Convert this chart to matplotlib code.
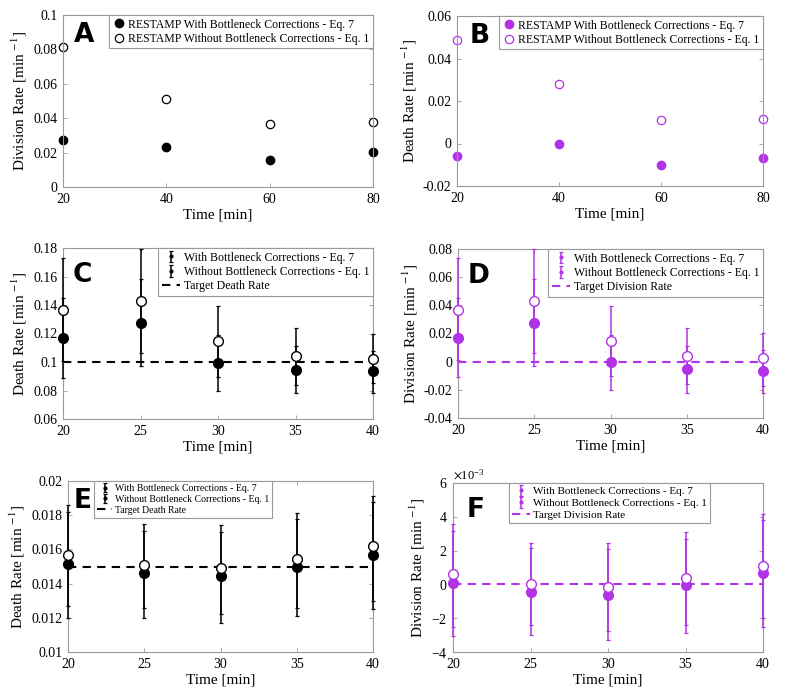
import numpy as np
import matplotlib
matplotlib.use("Agg")
import matplotlib.pyplot as plt
from matplotlib.ticker import FuncFormatter, ScalarFormatter, MultipleLocator

plt.rcParams['font.family'] = ['Liberation Serif', 'DejaVu Serif']
plt.rcParams['mathtext.fontset'] = 'stix'
plt.rcParams['axes.unicode_minus'] = False

PURPLE = '#B233E6'
BLACK = '#000000'

# ---------------- data ----------------
A_time = [20, 40, 60, 80]
A_with = [0.0271, 0.0230, 0.0157, 0.0201]
A_without = [0.0816, 0.0511, 0.0366, 0.0379]

B_with = [-0.0061, -0.0002, -0.0102, -0.0069]
B_without = [0.0488, 0.0281, 0.0109, 0.0113]

T = [20, 25, 30, 35, 40]

C_with = [0.1171, 0.1277, 0.0995, 0.0946, 0.0934]
C_with_lo = [0.089, 0.097, 0.080, 0.078, 0.078]
C_with_hi = [0.145, 0.158, 0.119, 0.111, 0.108]
C_without = [0.1366, 0.1429, 0.1148, 0.1042, 0.1023]
C_without_lo = [0.101, 0.106, 0.0896, 0.084, 0.085]
C_without_hi = [0.173, 0.179, 0.1395, 0.124, 0.120]
C_target = 0.1

D_with = [0.0167, 0.0278, -0.0003, -0.0055, -0.0069]
D_with_lo = [-0.011, -0.003, -0.020, -0.0223, -0.0223]
D_with_hi = [0.045, 0.0585, 0.019, 0.0108, 0.0084]
D_without = [0.0365, 0.0429, 0.0148, 0.0042, 0.0023]
D_without_lo = [0.001, 0.0065, -0.0105, -0.016, -0.0175]
D_without_hi = [0.0734, 0.080, 0.0398, 0.0238, 0.0202]
D_target = 0.0

E_with = [0.01516, 0.01461, 0.01442, 0.0150, 0.01568]
E_with_lo = [0.0120, 0.0120, 0.0117, 0.0121, 0.0125]
E_with_hi = [0.0182, 0.0171, 0.0170, 0.0178, 0.0188]
E_without = [0.01568, 0.0151, 0.0149, 0.01545, 0.01617]
E_without_lo = [0.0127, 0.0126, 0.0122, 0.0126, 0.0130]
E_without_hi = [0.0186, 0.0175, 0.0174, 0.0181, 0.0191]
E_target = 0.015

# panel F values in units of 1e-3
F_with = [0.10, -0.43, -0.63, -0.04, 0.67]
F_with_lo = [-3.08, -3.02, -3.31, -2.86, -2.53]
F_with_hi = [3.16, 2.18, 2.12, 2.71, 3.80]
F_without = [0.59, 0.02, -0.16, 0.39, 1.10]
F_without_lo = [-2.53, -2.43, -2.78, -2.39, -2.00]
F_without_hi = [3.55, 2.47, 2.43, 3.10, 4.14]
F_target = 0.0
F_scale = 1e-3

# ---------------- figure ----------------
W, H = 789, 697
fig = plt.figure(figsize=(W / 100, H / 100), dpi=100)

def ax_px(l, r, t, b):
    return fig.add_axes([l / W, 1 - b / H, (r - l) / W, (b - t) / H])

axA = ax_px(63, 373, 15, 187)
axB = ax_px(457, 763, 16, 186)
axC = ax_px(63, 373, 248, 419)
axD = ax_px(458, 763, 249, 418)
axE = ax_px(68, 373, 481, 652)
axF = ax_px(453, 763, 483, 652)

gfmt = FuncFormatter(lambda v, p: ('%g' % round(v, 6)))

def style(ax, ylabel):
    for s in ax.spines.values():
        s.set_color('#9a9a9a')
        s.set_linewidth(0.8)
    ax.tick_params(direction='in', top=True, right=True, length=3,
                   width=0.6, color='#9a9a9a', labelsize=10, pad=4)
    ax.set_xlabel('Time [min]', fontsize=11, labelpad=2)
    ax.set_ylabel(ylabel, fontsize=11, labelpad=3)

def letter(ax, s, x, y):
    ax.text(x, y, s, transform=ax.transAxes, fontsize=19,
            fontfamily='DejaVu Sans', fontweight='bold', va='top', ha='left', zorder=10)

# Panel A
axA.plot(A_time, A_with, 'o', color=BLACK, ms=6, clip_on=False,
         label='RESTAMP With Bottleneck Corrections - Eq. 7')
axA.plot(A_time, A_without, 'o', mfc='white', mec=BLACK, mew=0.9, ms=6, clip_on=False,
         label='RESTAMP Without Bottleneck Corrections - Eq. 1')
axA.set_xlim(20, 80); axA.set_ylim(0, 0.1)
axA.xaxis.set_major_locator(MultipleLocator(20))
axA.yaxis.set_major_locator(MultipleLocator(0.02))
axA.yaxis.set_major_formatter(gfmt)
style(axA, r'Division Rate [min $^{-1}$]')

# Panel B
axB.plot(A_time, B_with, 'o', color=PURPLE, ms=6, clip_on=False,
         label='RESTAMP With Bottleneck Corrections - Eq. 7')
axB.plot(A_time, B_without, 'o', mfc='white', mec=PURPLE, mew=0.9, ms=6, clip_on=False,
         label='RESTAMP Without Bottleneck Corrections - Eq. 1')
axB.set_xlim(20, 80); axB.set_ylim(-0.02, 0.06)
axB.xaxis.set_major_locator(MultipleLocator(20))
axB.yaxis.set_major_locator(MultipleLocator(0.02))
axB.yaxis.set_major_formatter(gfmt)
style(axB, r'Death Rate [min $^{-1}$]')

def err_panel(ax, color, w, wlo, whi, wo, wolo, wohi, target, tlabel, scale=1.0):
    w = np.array(w) * scale; wlo = np.array(wlo) * scale; whi = np.array(whi) * scale
    wo = np.array(wo) * scale; wolo = np.array(wolo) * scale; wohi = np.array(wohi) * scale
    e1 = ax.errorbar(T, w, yerr=[w - wlo, whi - w], fmt='.', color=color, ms=4,
                     elinewidth=1.1, capsize=1.5, capthick=0.9,
                     label='With Bottleneck Corrections - Eq. 7', zorder=3)
    e2 = ax.errorbar(T, wo, yerr=[wo - wolo, wohi - wo], fmt='.', color=color, ms=4,
                     elinewidth=1.1, capsize=1.5, capthick=0.9,
                     label='Without Bottleneck Corrections - Eq. 1', zorder=3)
    for e in (e1, e2):
        for art in e.lines[1] + e.lines[2]:
            art.set_clip_on(False)
        e.lines[0].set_clip_on(False)
    l3 = ax.axhline(target * scale, color=color, lw=1.5, ls=(0, (4, 3)), label=tlabel, zorder=2)
    ax.plot(T, w, 'o', color=color, ms=7, zorder=4, clip_on=False)
    ax.plot(T, wo, 'o', mfc='white', mec=color, mew=1.0, ms=7, zorder=4, clip_on=False)
    ax.set_xlim(20, 40)
    ax.xaxis.set_major_locator(MultipleLocator(5))
    return [e1, e2, l3]

hC = err_panel(axC, BLACK, C_with, C_with_lo, C_with_hi, C_without, C_without_lo, C_without_hi,
               C_target, 'Target Death Rate')
axC.set_ylim(0.06, 0.18)
axC.yaxis.set_major_locator(MultipleLocator(0.02))
axC.yaxis.set_major_formatter(gfmt)
style(axC, r'Death Rate [min $^{-1}$]')

hD = err_panel(axD, PURPLE, D_with, D_with_lo, D_with_hi, D_without, D_without_lo, D_without_hi,
               D_target, 'Target Division Rate')
axD.set_ylim(-0.04, 0.08)
axD.yaxis.set_major_locator(MultipleLocator(0.02))
axD.yaxis.set_major_formatter(gfmt)
style(axD, r'Division Rate [min $^{-1}$]')

hE = err_panel(axE, BLACK, E_with, E_with_lo, E_with_hi, E_without, E_without_lo, E_without_hi,
               E_target, 'Target Death Rate')
axE.set_ylim(0.01, 0.02)
axE.yaxis.set_major_locator(MultipleLocator(0.002))
axE.yaxis.set_major_formatter(gfmt)
style(axE, r'Death Rate [min $^{-1}$]')

hF = err_panel(axF, PURPLE, F_with, F_with_lo, F_with_hi, F_without, F_without_lo, F_without_hi,
               F_target, 'Target Division Rate', scale=F_scale)
axF.set_ylim(-0.004, 0.006)
axF.yaxis.set_major_locator(MultipleLocator(0.002))
sf = ScalarFormatter(useMathText=True)
sf.set_powerlimits((-2, 2))
axF.yaxis.set_major_formatter(sf)
style(axF, r'Division Rate [min $^{-1}$]')
axF.yaxis.get_offset_text().set_fontsize(9)

# Legends
leg_kw = dict(fontsize=8.5, frameon=True, fancybox=False, framealpha=1,
              edgecolor='#9a9a9a', borderaxespad=0, handletextpad=0.3,
              handlelength=1.0, borderpad=0.3, labelspacing=0.2)
for ax in (axA, axB):
    lg = ax.legend(loc='upper right', **leg_kw)
    lg.get_frame().set_linewidth(0.8)
for ax, hh in ((axC, hC), (axD, hD)):
    lg = ax.legend(handles=hh, loc='upper right', **dict(leg_kw, fontsize=8.5, handlelength=1.6))
    lg.get_frame().set_linewidth(0.8)
lg = axE.legend(handles=hE, loc='upper left', bbox_to_anchor=(0.085, 1.0),
                **dict(leg_kw, fontsize=7, handlelength=1.6))
lg.get_frame().set_linewidth(0.8)
lg = axF.legend(handles=hF, loc='upper left', bbox_to_anchor=(0.18, 1.0),
                **dict(leg_kw, fontsize=8, handlelength=1.6))
lg.get_frame().set_linewidth(0.8)

letter(axA, 'A', 0.035, 0.96)
letter(axB, 'B', 0.040, 0.96)
letter(axC, 'C', 0.032, 0.92)
letter(axD, 'D', 0.032, 0.92)
letter(axE, 'E', 0.02, 0.96)
letter(axF, 'F', 0.045, 0.92)

fig.savefig('out.png', dpi=100)
